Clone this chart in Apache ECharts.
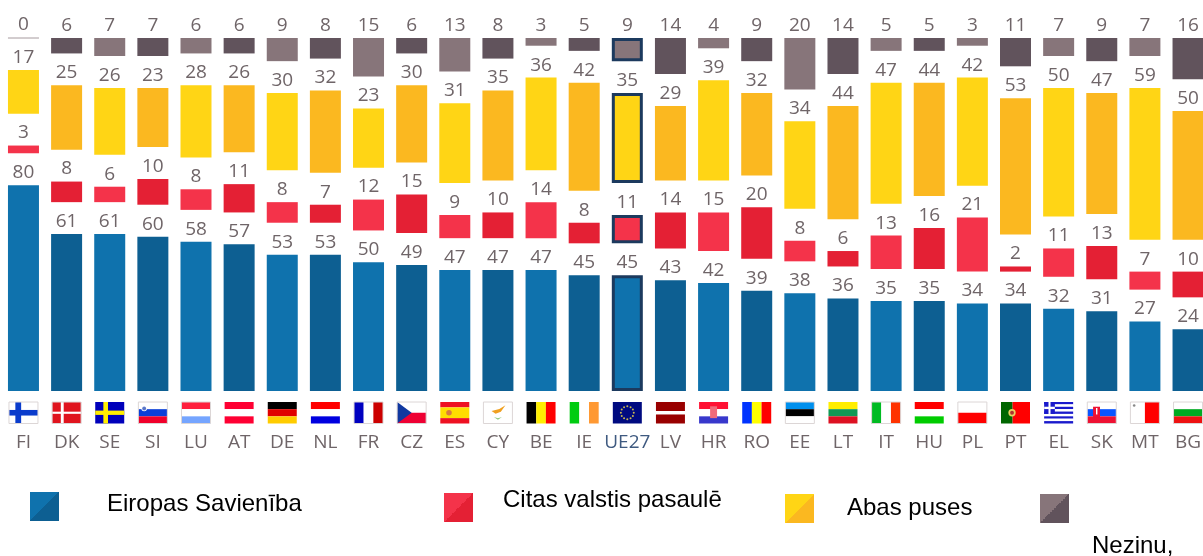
<!DOCTYPE html>
<html lang="lv">
<head>
<meta charset="utf-8">
<title>Eiropas Savienība</title>
<style>html,body{margin:0;padding:0;background:#fff}#c{width:1203px;height:556px;overflow:hidden}</style>
<script src="https://cdn.jsdelivr.net/npm/echarts@6/dist/echarts.min.js"></script>
</head>
<body>
<div id="c"></div>
<script>
var categories = ['FI','DK','SE','SI','LU','AT','DE','NL','FR','CZ','ES','CY','BE','IE','UE27','LV','HR','RO','EE','LT','IT','HU','PL','PT','EL','SK','MT','BG'];
var euSavieniba = [80,61,61,60,58,57,53,53,50,49,47,47,47,45,45,43,42,39,38,36,35,35,34,34,32,31,27,24];
var citasValstis = [3,8,6,10,8,11,8,7,12,15,9,10,14,8,11,14,15,20,8,6,13,16,21,2,11,13,7,10];
var abasPuses = [17,25,26,23,28,26,30,32,23,30,31,35,36,42,35,29,39,32,34,44,47,44,42,53,50,47,59,50];
var nezinu = [0,6,7,7,6,6,9,8,15,6,13,8,3,5,9,14,4,9,20,14,5,5,3,11,7,9,7,16];
var seriesNames = ['Eiropas Savienība','Citas valstis pasaulē','Abas puses','Nezinu,'];
var SPACER = 12.4;

var NAVY = '#1c3a5e', TXT = '#6f6568';
var PAL = [['#0f72ad','#0d5f92'],['#f4334a','#e42034'],['#ffd515','#fbb820'],['#87757a','#61535c']];

var FLAGS = {
 FI:{bg:'#fff',x:[['r',.22,0,.2,1,'#0a3ccc'],['r',0,.37,1,.26,'#0a3ccc']]},
 DK:{bg:'#e0141e',x:[['r',.3,0,.1,1,'#fff'],['r',0,.45,1,.1,'#fff']]},
 SE:{bg:'#0000bb',x:[['r',.28,0,.16,1,'#ffee00'],['r',0,.4,1,.2,'#ffee00']]},
 SI:{h:['#ffffff','#0a3fd8','#f0002a'],x:[['c',.2,.3,.13,'#ffffff'],['c',.2,.3,.09,'#5c78c8']]},
 LU:{h:['#ff1f3d','#ffffff','#75a5ff']},
 AT:{h:['#ff0033','#ffffff','#ff0033']},
 DE:{h:['#000000','#e00000','#ffcc00']},
 NL:{h:['#ff0000','#ffffff','#0000e0']},
 FR:{v:['#0000c0','#ffffff','#cc0000']},
 CZ:{h:['#ffffff','#ee0033'],x:[['p',[[0,0],[.5,.5],[0,1]],'#1038a0']]},
 ES:{s:[['#ee1122',.25],['#ffdd00',.5],['#ee1122',.25]],x:[['c',.3,.5,.13,'#d87a40']]},
 CY:{bg:'#ffffff',x:[['p',[[.28,.42],[.55,.32],[.76,.15],[.6,.45],[.42,.55]],'#f0a020'],['p',[[.36,.7],[.5,.82],[.64,.7],[.5,.76]],'#8cc878']]},
 BE:{v:['#000000','#ffee00','#ff0000']},
 IE:{v:['#00cc11','#ffffff','#ff9933']},
 UE27:{bg:'#000a80',x:[['ring',.5,.5,.3,'#c8b850']]},
 LV:{s:[['#990000',.42],['#ffffff',.16],['#990000',.42]]},
 HR:{h:['#ff1133','#ffffff','#3838cc'],x:[['r',.38,.2,.24,.55,'#f06a7a']]},
 RO:{v:['#0033ff','#ffff00','#ff0000']},
 EE:{h:['#0090ee','#000000','#ffffff']},
 LT:{h:['#ffee00','#119955','#dd1122']},
 IT:{v:['#00bb22','#ffffff','#ff3300']},
 HU:{h:['#ff0000','#ffffff','#00cc00']},
 PL:{h:['#ffffff','#ff0000']},
 PT:{s0:[['#006600',.4],['#ff0000',.6]],x:[['c',.38,.5,.17,'#e8d060'],['c',.38,.5,.09,'#b03030']]},
 EL:{s:[['#1a1acc',.111],['#fff',.111],['#1a1acc',.111],['#fff',.111],['#1a1acc',.111],['#fff',.111],['#1a1acc',.111],['#fff',.111],['#1a1acc',.112]],x:[['r',0,0,.37,.555,'#1a1acc'],['r',.15,0,.07,.555,'#fff'],['r',0,.22,.37,.11,'#fff']]},
 SK:{h:['#ffffff','#0a55ff','#ee1133'],x:[['r',.2,.22,.24,.5,'#ee1133'],['r',.3,.28,.05,.3,'#ffffff']]},
 MT:{s0:[['#ffffff',.5],['#ff0000',.5]],x:[['c',.13,.16,.06,'#888']]},
 BG:{h:['#ffffff','#00aa22','#ee1111']}
};

function flagChildren(code, px, py, w, h) {
  var f = FLAGS[code], out = [];
  function rect(x, y, rw, rh, fill) {
    out.push({type:'rect', shape:{x:px + x*w, y:py + y*h, width:rw*w, height:rh*h}, style:{fill:fill}, silent:true});
  }
  if (f.bg) rect(0,0,1,1,f.bg);
  if (f.h) f.h.forEach(function(c,i){ rect(0,i/f.h.length,1,1/f.h.length,c); });
  if (f.v) f.v.forEach(function(c,i){ rect(i/f.v.length,0,1/f.v.length,1,c); });
  if (f.s) { var y=0; f.s.forEach(function(p){ rect(0,y,1,p[1],p[0]); y+=p[1]; }); }
  if (f.s0) { var x=0; f.s0.forEach(function(p){ rect(x,0,p[1],1,p[0]); x+=p[1]; }); }
  (f.x||[]).forEach(function(e){
    if (e[0]==='r') rect(e[1],e[2],e[3],e[4],e[5]);
    else if (e[0]==='c') out.push({type:'circle',shape:{cx:px+e[1]*w,cy:py+e[2]*h,r:e[3]*h},style:{fill:e[4]},silent:true});
    else if (e[0]==='p') out.push({type:'polygon',shape:{points:e[1].map(function(q){return [px+q[0]*w,py+q[1]*h];})},style:{fill:e[2]},silent:true});
    else if (e[0]==='ring') {
      for (var k=0;k<12;k++){
        var a=k/12*2*Math.PI;
        out.push({type:'circle',shape:{cx:px+e[1]*w+Math.cos(a)*e[3]*h,cy:py+e[2]*h+Math.sin(a)*e[3]*h,r:1},style:{fill:e[4]},silent:true});
      }
    }
  });
  var pale = {FI:1,SI:1,LU:1,CZ:1,CY:1,PL:1,EE:1,SK:1,MT:1,BG:1,IT:1,DK:1,FR:1};
  if (pale[code]) out.push({type:'rect',shape:{x:px,y:py,width:w,height:h},style:{fill:'none',stroke:'#dcd6d6',lineWidth:1},silent:true});
  return out;
}

var euIndex = categories.indexOf('UE27');

function barSeries(name, values, pal) {
  return {
    type:'bar', name:name, stack:'t', barWidth:31, z:3,
    itemStyle:{ color:function(p){ return pal[p.dataIndex % 2]; } },
    label:{show:true, position:'top', distance:3, color:TXT, fontFamily:'Open Sans', fontSize:19, formatter:'{c}'},
    data:values.map(function(v,i){
      if (i===euIndex) return {value:v, itemStyle:{borderColor:NAVY, borderWidth:3}};
      if (v===0) return {value:v, itemStyle:{borderColor:'#c4bcbe', borderWidth:1}};
      return v;
    })
  };
}
function spacer() {
  return {type:'bar', name:'_', stack:'t', barWidth:31, silent:true, itemStyle:{color:'rgba(0,0,0,0)'}, data:categories.map(function(){return SPACER;})};
}
function swatch(p){
  return {color:new echarts.graphic.LinearGradient(0,0,1,1,[{offset:0,color:p[0]},{offset:.5,color:p[0]},{offset:.5,color:p[1]},{offset:1,color:p[1]}])};
}
function legendFor(i, left, top, padLeft, lineH, lead, trail) {
  return {
    data:[seriesNames[i]], left:left, top:top, padding:0, orient:'horizontal', icon:'rect',
    itemWidth:29, itemHeight:29, selectedMode:false, itemStyle:swatch(PAL[i]),
    formatter:function(n){ return lead + n + trail; },
    textStyle:{color:'#000', fontFamily:'Liberation Sans', fontSize:24, lineHeight:lineH, padding:[0,0,0,padLeft]}
  };
}

var chart = echarts.init(document.getElementById('c'), null, {renderer:'canvas'});
chart.setOption({
  animation:false,
  backgroundColor:'#fff',
  grid:{left:1.9, top:38, width:1207.7, height:353, containLabel:false, outerBoundsMode:'none'},
  xAxis:{
    type:'category', data:categories,
    axisLine:{show:false}, axisTick:{show:false}, splitLine:{show:false},
    axisLabel:{
      interval:0, margin:42, color:TXT, fontFamily:'Open Sans', fontSize:19,
      formatter:function(v){ return v==='UE27' ? '{eu|'+v+'}' : v; },
      rich:{eu:{color:'#3f5a80', fontFamily:'Open Sans', fontSize:19}}
    }
  },
  yAxis:{type:'value', min:0, max:100+3*SPACER, show:false},
  legend:[
    legendFor(0,30,492,43,5,'','\n'),
    legendFor(1,444,488,25,15,'','\n'),
    legendFor(2,785,494,28,20,'',''),
    legendFor(3,1040,451.5,18,38,'\n\n','')
  ],
  series:[
    barSeries(seriesNames[0],euSavieniba,PAL[0]), spacer(),
    barSeries(seriesNames[1],citasValstis,PAL[1]), spacer(),
    barSeries(seriesNames[2],abasPuses,PAL[2]), spacer(),
    barSeries(seriesNames[3],nezinu,PAL[3]),
    {
      type:'custom', name:'flags', clip:false, silent:true, z:4,
      encode:{x:0,y:1},
      data:categories.map(function(c,i){return [i,0];}),
      renderItem:function(params, api){
        var p = api.coord([api.value(0),0]);
        return {type:'group', children:flagChildren(categories[api.value(0)], p[0]-14.5, p[1]+11, 29, 21.5)};
      }
    }
  ]
});
</script>
</body>
</html>
